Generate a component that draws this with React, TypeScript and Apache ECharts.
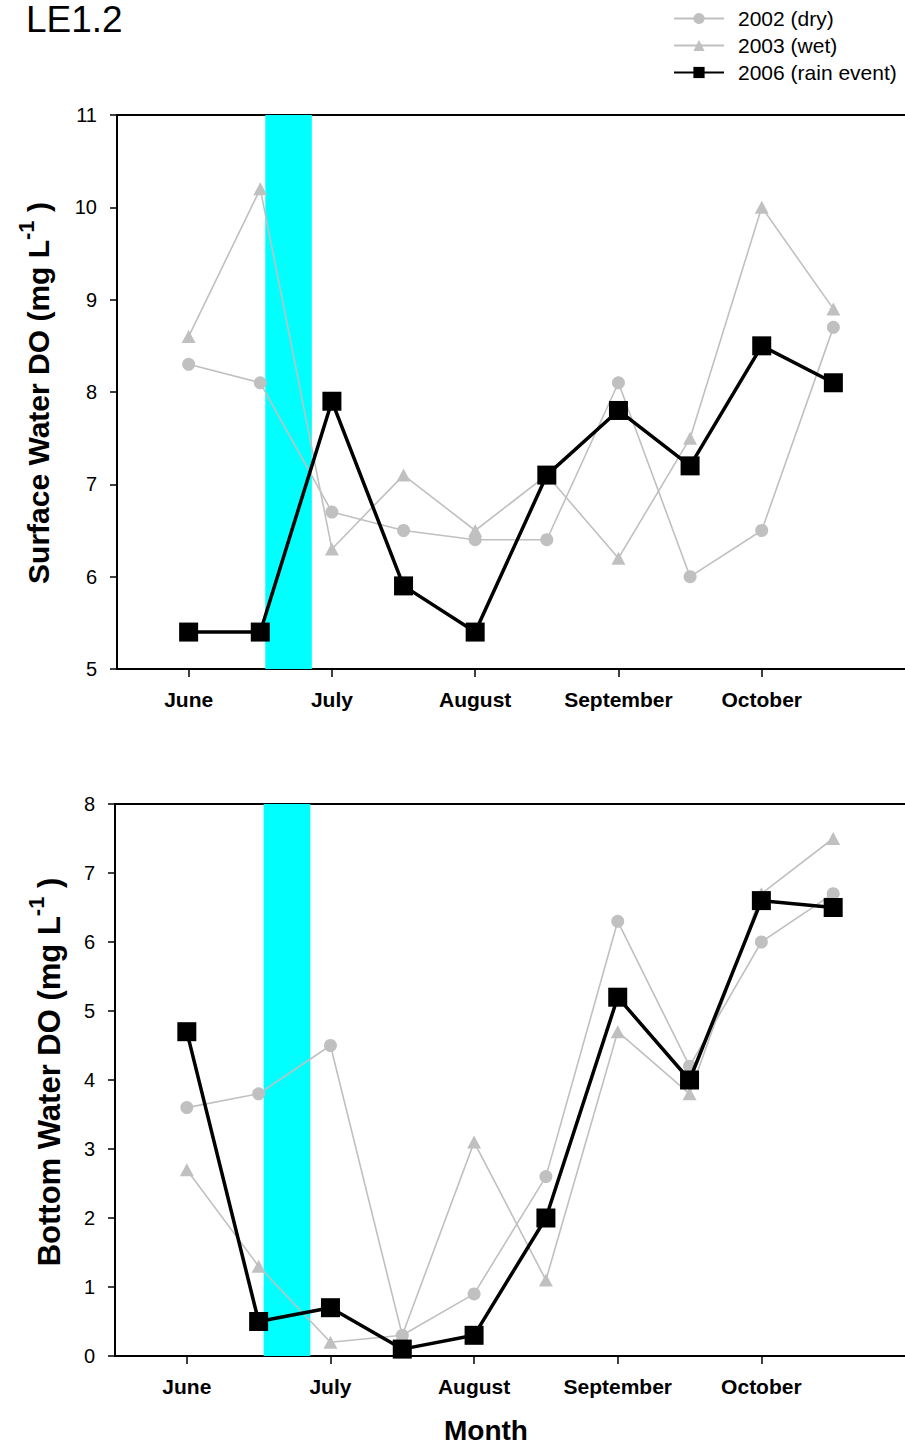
import React, { useEffect, useRef } from "react";
import * as echarts from "echarts";

// ---- data ----
const samplePositions = [0, 1, 2, 3, 4, 5, 6, 7, 8, 9]; // half-month steps from early June
const monthTickValues = [0, 2, 4, 6, 8];
const monthLabels = ["June", "July", "August", "September", "October"];
const seriesNames = ["2002 (dry)", "2003 (wet)", "2006 (rain event)"];

const surface2002 = [8.3, 8.1, 6.7, 6.5, 6.4, 6.4, 8.1, 6.0, 6.5, 8.7];
const surface2003 = [8.6, 10.2, 6.3, 7.1, 6.5, 7.1, 6.2, 7.5, 10.0, 8.9];
const surface2006 = [5.4, 5.4, 7.9, 5.9, 5.4, 7.1, 7.8, 7.2, 8.5, 8.1];

const bottom2002 = [3.6, 3.8, 4.5, 0.3, 0.9, 2.6, 6.3, 4.2, 6.0, 6.7];
const bottom2003 = [2.7, 1.3, 0.2, 0.3, 3.1, 1.1, 4.7, 3.8, 6.7, 7.5];
const bottom2006 = [4.7, 0.5, 0.7, 0.1, 0.3, 2.0, 5.2, 4.0, 6.6, 6.5];

const surfaceTicks = [5, 6, 7, 8, 9, 10, 11];
const bottomTicks = [0, 1, 2, 3, 4, 5, 6, 7, 8];
const xRange = [-1, 10];
const rainEventSpan = [1.07, 1.72];

const FONT = "'Liberation Sans', Arial, Helvetica, sans-serif";
const GRAY = "#c0c0c0";

function pairs(vals: number[]) {
  return samplePositions.map((x, i) => [x, vals[i]]);
}

function xAxisMain(gridIndex: number) {
  return {
    type: "value",
    gridIndex,
    min: xRange[0],
    max: xRange[1],
    position: "bottom",
    axisLine: { show: true, onZero: false, lineStyle: { color: "#000", width: 2 } },
    axisTick: {
      show: true,
      customValues: monthTickValues,
      length: 8,
      lineStyle: { color: "#000", width: 1.5 },
    },
    axisLabel: {
      show: true,
      customValues: monthTickValues,
      formatter: (v: number) => monthLabels[monthTickValues.indexOf(v)] ?? "",
      color: "#000",
      fontFamily: FONT,
      fontWeight: "bold",
      fontSize: 21,
      margin: 20,
    },
    splitLine: { show: false },
  };
}

function xAxisTop(gridIndex: number) {
  return {
    type: "value",
    gridIndex,
    min: xRange[0],
    max: xRange[1],
    position: "top",
    axisLine: { show: true, onZero: false, lineStyle: { color: "#000", width: 2 } },
    axisTick: { show: false },
    axisLabel: { show: false },
    splitLine: { show: false },
  };
}

function yAxis(gridIndex: number, ticks: number[]) {
  return {
    type: "value",
    gridIndex,
    min: ticks[0],
    max: ticks[ticks.length - 1],
    interval: 1,
    axisLine: { show: true, onZero: false, lineStyle: { color: "#000", width: 2 } },
    axisTick: { show: true, length: 7, lineStyle: { color: "#000", width: 1.5 } },
    axisLabel: { color: "#000", fontFamily: FONT, fontSize: 20, margin: 20 },
    splitLine: { show: false },
  };
}

function seriesFor(gridIndex: number, d02: number[], d03: number[], d06: number[]) {
  const xi = gridIndex * 2;
  return [
    {
      name: seriesNames[0],
      type: "line",
      xAxisIndex: xi,
      yAxisIndex: gridIndex,
      data: pairs(d02),
      symbol: "circle",
      symbolSize: 13,
      z: 2,
      lineStyle: { color: GRAY, width: 1.6 },
      itemStyle: { color: GRAY },
      markArea: {
        silent: true,
        itemStyle: { color: "#00ffff", opacity: 1 },
        data: [[{ xAxis: rainEventSpan[0] }, { xAxis: rainEventSpan[1] }]],
      },
    },
    {
      name: seriesNames[1],
      type: "line",
      xAxisIndex: xi,
      yAxisIndex: gridIndex,
      data: pairs(d03),
      symbol: "triangle",
      symbolSize: [14, 13],
      z: 2,
      lineStyle: { color: GRAY, width: 1.6 },
      itemStyle: { color: GRAY },
    },
    {
      name: seriesNames[2],
      type: "line",
      xAxisIndex: xi,
      yAxisIndex: gridIndex,
      data: pairs(d06),
      symbol: "rect",
      symbolSize: 19,
      z: 4,
      lineStyle: { color: "#000", width: 3.5 },
      itemStyle: { color: "#000" },
    },
  ];
}

function yTitle(x: number, y: number, label: string, size: number) {
  const sup = Math.round(size * 0.72);
  return {
    type: "text",
    x,
    y,
    rotation: Math.PI / 2,
    style: {
      text: `{m|${label} (mg L}{s|-1}{m| )}`,
      align: "center",
      verticalAlign: "middle",
      rich: {
        m: { fontFamily: FONT, fontWeight: "bold", fontSize: size, lineHeight: Math.round(size * 1.52), fill: "#000", color: "#000" },
        s: {
          fontFamily: FONT,
          fontWeight: "bold",
          fontSize: sup,
          lineHeight: sup,
          verticalAlign: "top",
          fill: "#000",
          color: "#000",
        },
      },
    },
  };
}

export default function App() {
  const ref = useRef<HTMLDivElement>(null);

  useEffect(() => {
    if (!ref.current) return;
    const chart = echarts.init(ref.current, undefined, { renderer: "svg" });
    chart.setOption({
      animation: false,
      backgroundColor: "#fff",
      legend: {
        orient: "vertical",
        left: 673,
        top: 8,
        padding: 0,
        itemWidth: 50,
        itemHeight: 14,
        itemGap: 6,
        data: seriesNames,
        textStyle: { fontFamily: FONT, fontSize: 21, color: "#000", lineHeight: 21, padding: [0, 0, 0, 9] },
      },
      grid: [
        { left: 117, right: -6, top: 115, height: 554 },
        { left: 115, right: -4, top: 804, height: 552 },
      ],
      xAxis: [xAxisMain(0), xAxisTop(0), xAxisMain(1), xAxisTop(1)],
      yAxis: [yAxis(0, surfaceTicks), yAxis(1, bottomTicks)],
      series: [
        ...seriesFor(0, surface2002, surface2003, surface2006),
        ...seriesFor(1, bottom2002, bottom2003, bottom2006),
      ],
      graphic: [
        {
          type: "text",
          x: 26,
          y: 1,
          style: {
            text: "LE1.2",
            fontFamily: FONT,
            fontSize: 37,
            lineHeight: 37,
            fill: "#000",
            align: "left",
            verticalAlign: "top",
          },
        },
        yTitle(38, 393, "Surface Water DO", 30),
        yTitle(49, 1072, "Bottom Water DO", 31),
        {
          type: "text",
          x: 486,
          y: 1430,
          style: {
            text: "Month",
            fontFamily: FONT,
            fontWeight: "bold",
            fontSize: 28,
            fill: "#000",
            align: "center",
            verticalAlign: "middle",
          },
        },
      ],
    });
    return () => chart.dispose();
  }, []);

  return (
    <div
      ref={ref}
      style={{ position: "absolute", left: 0, top: 0, width: 905, height: 1445, overflow: "hidden" }}
    />
  );
}
